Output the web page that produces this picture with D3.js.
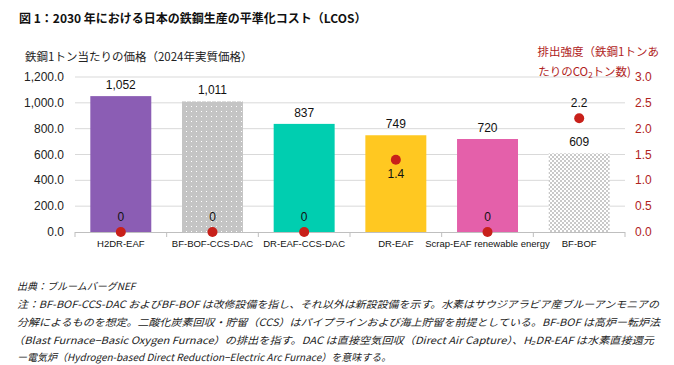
<!DOCTYPE html>
<html><head><meta charset="utf-8">
<script src="https://cdn.jsdelivr.net/npm/d3@7"></script>
<style>
body{margin:0;background:#fff;}
svg{display:block;}
</style></head>
<body>
<svg id="c" width="674" height="365"></svg>
<script>
const categories = ["H2DR-EAF","BF-BOF-CCS-DAC","DR-EAF-CCS-DAC","DR-EAF","Scrap-EAF renewable energy","BF-BOF"];
const costs = [1052,1011,837,749,720,609];
const emissions = [0,0,0,1.4,0,2.2];
const costLabels = ["1,052","1,011","837","749","720","609"];
const emissionLabels = ["0","0","0","1.4","0","2.2"];
const leftTicks = [0,200,400,600,800,1000,1200];
const rightTicks = [0,0.5,1,1.5,2,2.5,3];
const fills = ["#8B5DB4","url(#dots)","#00CEB0","#FFC821","#E460AA","url(#checker)"];

const svg = d3.select("#c");
const defs = svg.append("defs");
const pd = defs.append("pattern").attr("id","dots").attr("width",5).attr("height",5).attr("patternUnits","userSpaceOnUse");
pd.append("rect").attr("width",5).attr("height",5).attr("fill","#c4c4c4");
pd.append("rect").attr("x",1).attr("y",1).attr("width",1).attr("height",1).attr("fill","#fff");
const pc = defs.append("pattern").attr("id","checker").attr("width",4).attr("height",4).attr("patternUnits","userSpaceOnUse");
pc.append("rect").attr("width",4).attr("height",4).attr("fill","#ffffff");
pc.append("rect").attr("x",0).attr("y",0).attr("width",2).attr("height",2).attr("fill","#c9c9c9");
pc.append("rect").attr("x",2).attr("y",2).attr("width",2).attr("height",2).attr("fill","#c9c9c9");

const x0=75, x1=625, yTop=77, yBot=232;
const x = d3.scaleBand().domain(categories).range([x0,x1]).paddingInner(0.335).paddingOuter(0.167);
const y = d3.scaleLinear().domain([0,1200]).range([yBot,yTop]);
const y2 = d3.scaleLinear().domain([0,3]).range([yBot,yTop]);
const font = "Arial, 'Liberation Sans', sans-serif";
const jp = "'Noto Sans CJK JP', sans-serif";

// gridlines
svg.append("g").selectAll("line").data(leftTicks.slice(1)).join("line")
  .attr("x1",x0).attr("x2",x1).attr("y1",d=>y(d)).attr("y2",d=>y(d))
  .attr("stroke","#d9d9d9").attr("stroke-width",1);

// left axis labels
svg.append("g").selectAll("text").data(leftTicks).join("text")
  .attr("x",64).attr("y",d=>y(d)+4).attr("text-anchor","end")
  .attr("font-family",font).attr("font-size",12).attr("fill","#222")
  .text(d=>d3.format(",.1f")(d));
// right axis labels
svg.append("g").selectAll("text").data(rightTicks).join("text")
  .attr("x",635).attr("y",d=>y2(d)+4).attr("text-anchor","start")
  .attr("font-family",font).attr("font-size",12).attr("fill","#B0231D")
  .text(d=>d3.format(".1f")(d));

// bars
svg.append("g").selectAll("rect").data(categories).join("rect")
  .attr("x",d=>x(d)).attr("width",x.bandwidth())
  .attr("y",(d,i)=>y(costs[i])).attr("height",(d,i)=>yBot-y(costs[i]))
  .attr("fill",(d,i)=>fills[i]);

// x axis line + ticks
svg.append("line").attr("x1",x0).attr("x2",x1).attr("y1",yBot+0.5).attr("y2",yBot+0.5).attr("stroke","#bfbfbf");
const tickXs = d3.range(categories.length+1).map(i=>x0+i*(x1-x0)/categories.length);
svg.append("g").selectAll("line").data(tickXs).join("line")
  .attr("x1",d=>d).attr("x2",d=>d).attr("y1",yBot).attr("y2",yBot+5).attr("stroke","#bfbfbf");

// category labels
svg.append("g").selectAll("text").data(categories).join("text")
  .attr("x",d=>x(d)+x.bandwidth()/2).attr("y",247).attr("text-anchor","middle")
  .attr("font-family",font).attr("font-size",9.5).attr("fill","#111")
  .text(d=>d);

// bar value labels
svg.append("g").selectAll("text").data(categories).join("text")
  .attr("x",d=>x(d)+x.bandwidth()/2).attr("y",(d,i)=>y(costs[i])-7).attr("text-anchor","middle")
  .attr("font-family",font).attr("font-size",12).attr("fill","#111")
  .text((d,i)=>costLabels[i]);

// emission dots
svg.append("g").selectAll("circle").data(categories).join("circle")
  .attr("cx",d=>x(d)+x.bandwidth()/2).attr("cy",(d,i)=>y2(emissions[i]))
  .attr("r",5).attr("fill","#C8201A");
svg.append("g").selectAll("text").data(categories).join("text")
  .attr("x",d=>x(d)+x.bandwidth()/2)
  .attr("y",(d,i)=>emissions[i]===1.4 ? y2(emissions[i])+18 : y2(emissions[i])-11)
  .attr("text-anchor","middle")
  .attr("font-family",font).attr("font-size",12).attr("fill","#111")
  .text((d,i)=>emissionLabels[i]);

// titles
svg.append("text").attr("x",19).attr("y",23).attr("font-family",jp).attr("font-weight","bold")
  .attr("font-size",12).attr("fill","#111").text("図 1：2030 年における日本の鉄鋼生産の平準化コスト（LCOS）");
svg.append("text").attr("x",25).attr("y",61).attr("font-family",jp)
  .attr("font-size",11.5).attr("fill","#222").text("鉄鋼1トン当たりの価格（2024年実質価格）");
svg.append("text").attr("x",659).attr("y",56).attr("text-anchor","end").attr("font-family",jp)
  .attr("font-size",11.5).attr("fill","#B0231D").text("排出強度（鉄鋼1トンあ");
const t2 = svg.append("text").attr("x",631).attr("y",76).attr("text-anchor","end").attr("font-family",jp)
  .attr("font-size",11.5).attr("fill","#B0231D");
t2.append("tspan").text("たりのCO");
t2.append("tspan").attr("font-size",8).attr("dy",2).text("2");
t2.append("tspan").attr("dy",-2).text("トン数)");

// footnotes
const notes = [
  "出典：ブルームバーグNEF",
  "注：BF-BOF-CCS-DAC およびBF-BOF は改修設備を指し、それ以外は新設設備を示す。水素はサウジアラビア産ブルーアンモニアの",
  "分解によるものを想定。二酸化炭素回収・貯留（CCS）はパイプラインおよび海上貯留を前提としている。BF-BOF は高炉ー転炉法",
  "（Blast Furnace−Basic Oxygen Furnace）の排出を指す。DAC は直接空気回収（Direct Air Capture）、H₂DR-EAF は水素直接還元",
  "ー電気炉（Hydrogen-based Direct Reduction−Electric Arc Furnace）を意味する。"
];
svg.append("g").selectAll("text").data(notes).join("text")
  .attr("x",(d,i)=>i===3?13:17).attr("y",(d,i)=>[290,308,326,344,361][i])
  .attr("font-family",jp).attr("font-style","italic").attr("font-size",10).attr("fill","#222")
  .attr("textLength",(d,i)=>[null,642,643,641,null][i]).attr("lengthAdjust","spacingAndGlyphs")
  .text(d=>d);
</script>
</body></html>
